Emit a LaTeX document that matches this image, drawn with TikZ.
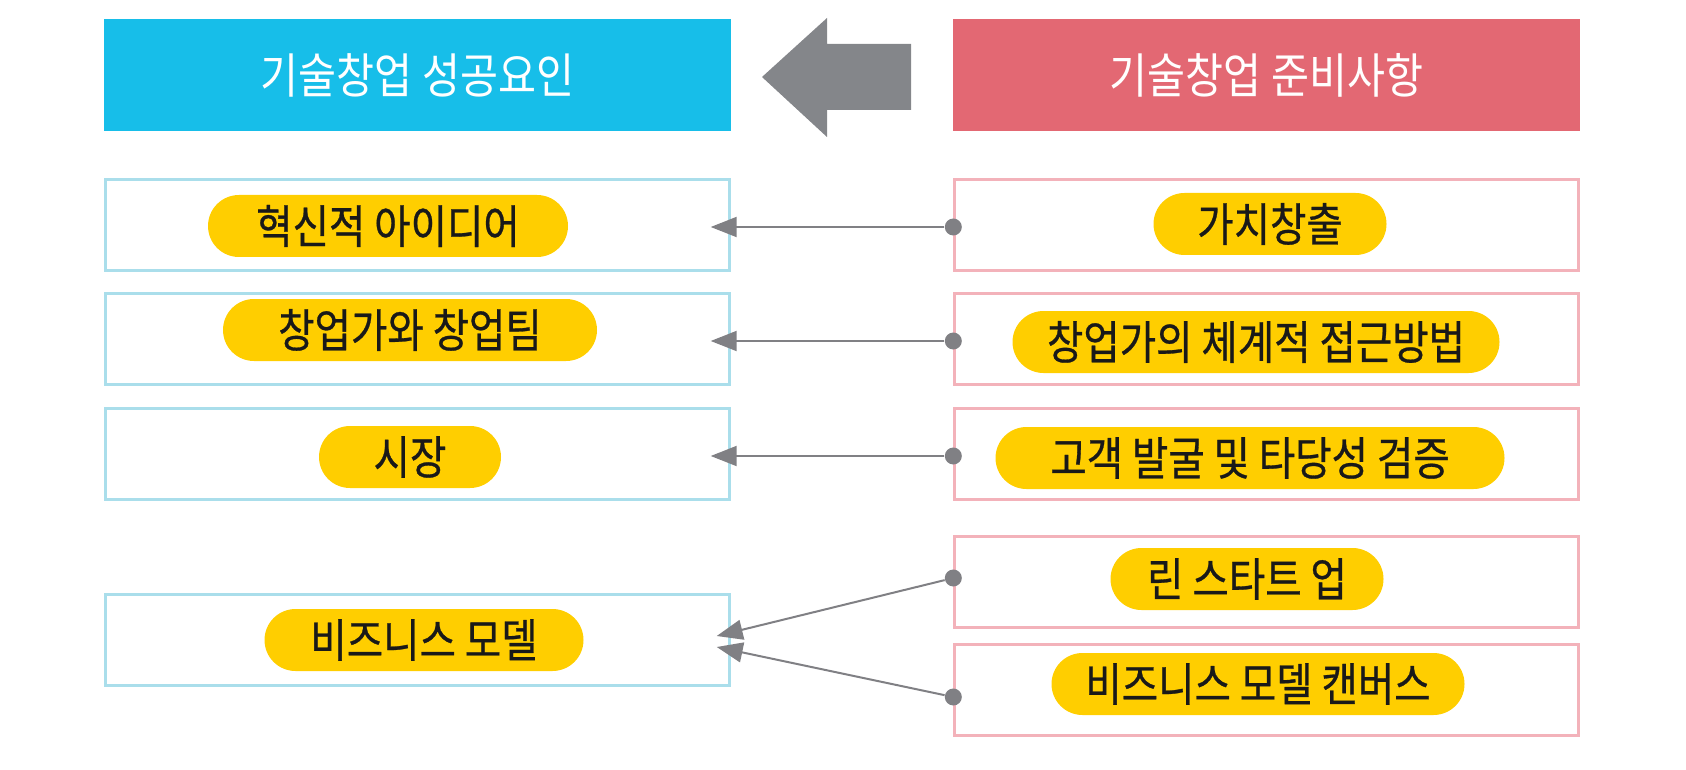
\documentclass[tikz,border=0pt]{standalone}
\usepackage{fontspec}
\setmainfont{Noto Sans CJK KR}
\newfontfamily\headfont[FakeStretch=0.86]{Noto Sans CJK KR}
\newfontfamily\pillfont[FakeStretch=0.86,FakeBold=0.6]{Noto Sans CJK KR}
\usetikzlibrary{arrows.meta}
\definecolor{headblue}{RGB}{23,190,233}
\definecolor{headred}{RGB}{227,104,115}
\definecolor{lineblue}{RGB}{170,222,235}
\definecolor{linepink}{RGB}{243,178,186}
\definecolor{pillyellow}{RGB}{255,206,0}
\definecolor{bigarrowgray}{RGB}{132,134,138}
\definecolor{conngray}{RGB}{128,128,132}
\begin{document}
\begin{tikzpicture}[x=0.5pt, y=-0.5pt, >={Triangle[length=13pt,width=10pt]},
  head/.style={minimum width=313.5pt, minimum height=56pt, inner sep=0pt, text=white, font=\headfont\fontsize{24pt}{26pt}\selectfont},
  leftbox/.style={draw=lineblue, line width=1.2pt, minimum width=312pt, minimum height=45.5pt},
  rightbox/.style={draw=linepink, line width=1.2pt, minimum width=312pt, minimum height=45.5pt},
  pill/.style={fill=pillyellow, rounded corners=15.5pt, minimum height=31pt, inner sep=0pt, text=black!90, font=\pillfont\fontsize{23pt}{25pt}\selectfont},
  dot/.style={circle, fill=conngray, inner sep=0pt, minimum size=8.5pt},
  link/.style={->, conngray, line width=1pt}]
\useasboundingbox (0,0) rectangle (1686,770);
\node[head, fill=headblue] (succ) at (417.5,75) {기술창업 성공요인};
\node[head, fill=headred] (prep) at (1266.5,75) {기술창업 준비사항};
\fill[bigarrowgray] (762,77) -- (827,18) -- (827,44) -- (911,44) -- (911,110) -- (827,110) -- (827,137) -- cycle;

\node[leftbox] (idea) at (417.5,225) {};
\node[leftbox] (team) at (417.5,339) {};
\node[leftbox] (market) at (417.5,454) {};
\node[leftbox] (model) at (417.5,640) {};
\node[rightbox] (value) at (1266.5,225) {};
\node[rightbox] (method) at (1266.5,339) {};
\node[rightbox] (customer) at (1266.5,454) {};
\node[rightbox] (lean) at (1266.5,582) {};
\node[rightbox] (canvas) at (1266.5,690) {};

\node[pill, minimum width=180pt] (ideap) at (388,226) {혁신적 아이디어};
\node[pill, minimum width=187pt] (teamp) at (410,330) {창업가와 창업팀};
\node[pill, minimum width=91pt] (marketp) at (410,457) {시장};
\node[pill, minimum width=159.5pt] (modelp) at (424,640) {비즈니스 모델};
\node[pill, minimum width=116.5pt] (valuep) at (1270,224) {가치창출};
\node[pill, minimum width=243.5pt] (methodp) at (1256,342) {창업가의 체계적 접근방법};
\node[pill, minimum width=254.5pt] (customerp) at (1250,458) {고객 발굴 및 타당성 검증};
\node[pill, minimum width=136.5pt] (leanp) at (1247,579) {린 스타트 업};
\node[pill, minimum width=206.5pt] (canvasp) at (1258,684) {비즈니스 모델 캔버스};

\node[dot] (d1) at ([yshift=-1pt]value.west) {};
\node[dot] (d2) at ([yshift=-1pt]method.west) {};
\node[dot] (d3) at ([yshift=-1pt]customer.west) {};
\node[dot] (d4) at ([yshift=2pt]lean.west) {};
\node[dot] (d5) at ([yshift=-3.5pt]canvas.west) {};
\draw[link] (d1) -- ([xshift=-10pt,yshift=-1pt]idea.east);
\draw[link] (d2) -- ([xshift=-10pt,yshift=-1pt]team.east);
\draw[link] (d3) -- ([xshift=-10pt,yshift=-1pt]market.east);
\draw[link] (d4) -- ([xshift=-7pt,yshift=2pt]model.east);
\draw[link] (d5) -- ([xshift=-7pt,yshift=-3.5pt]model.east);
\end{tikzpicture}
\end{document}
